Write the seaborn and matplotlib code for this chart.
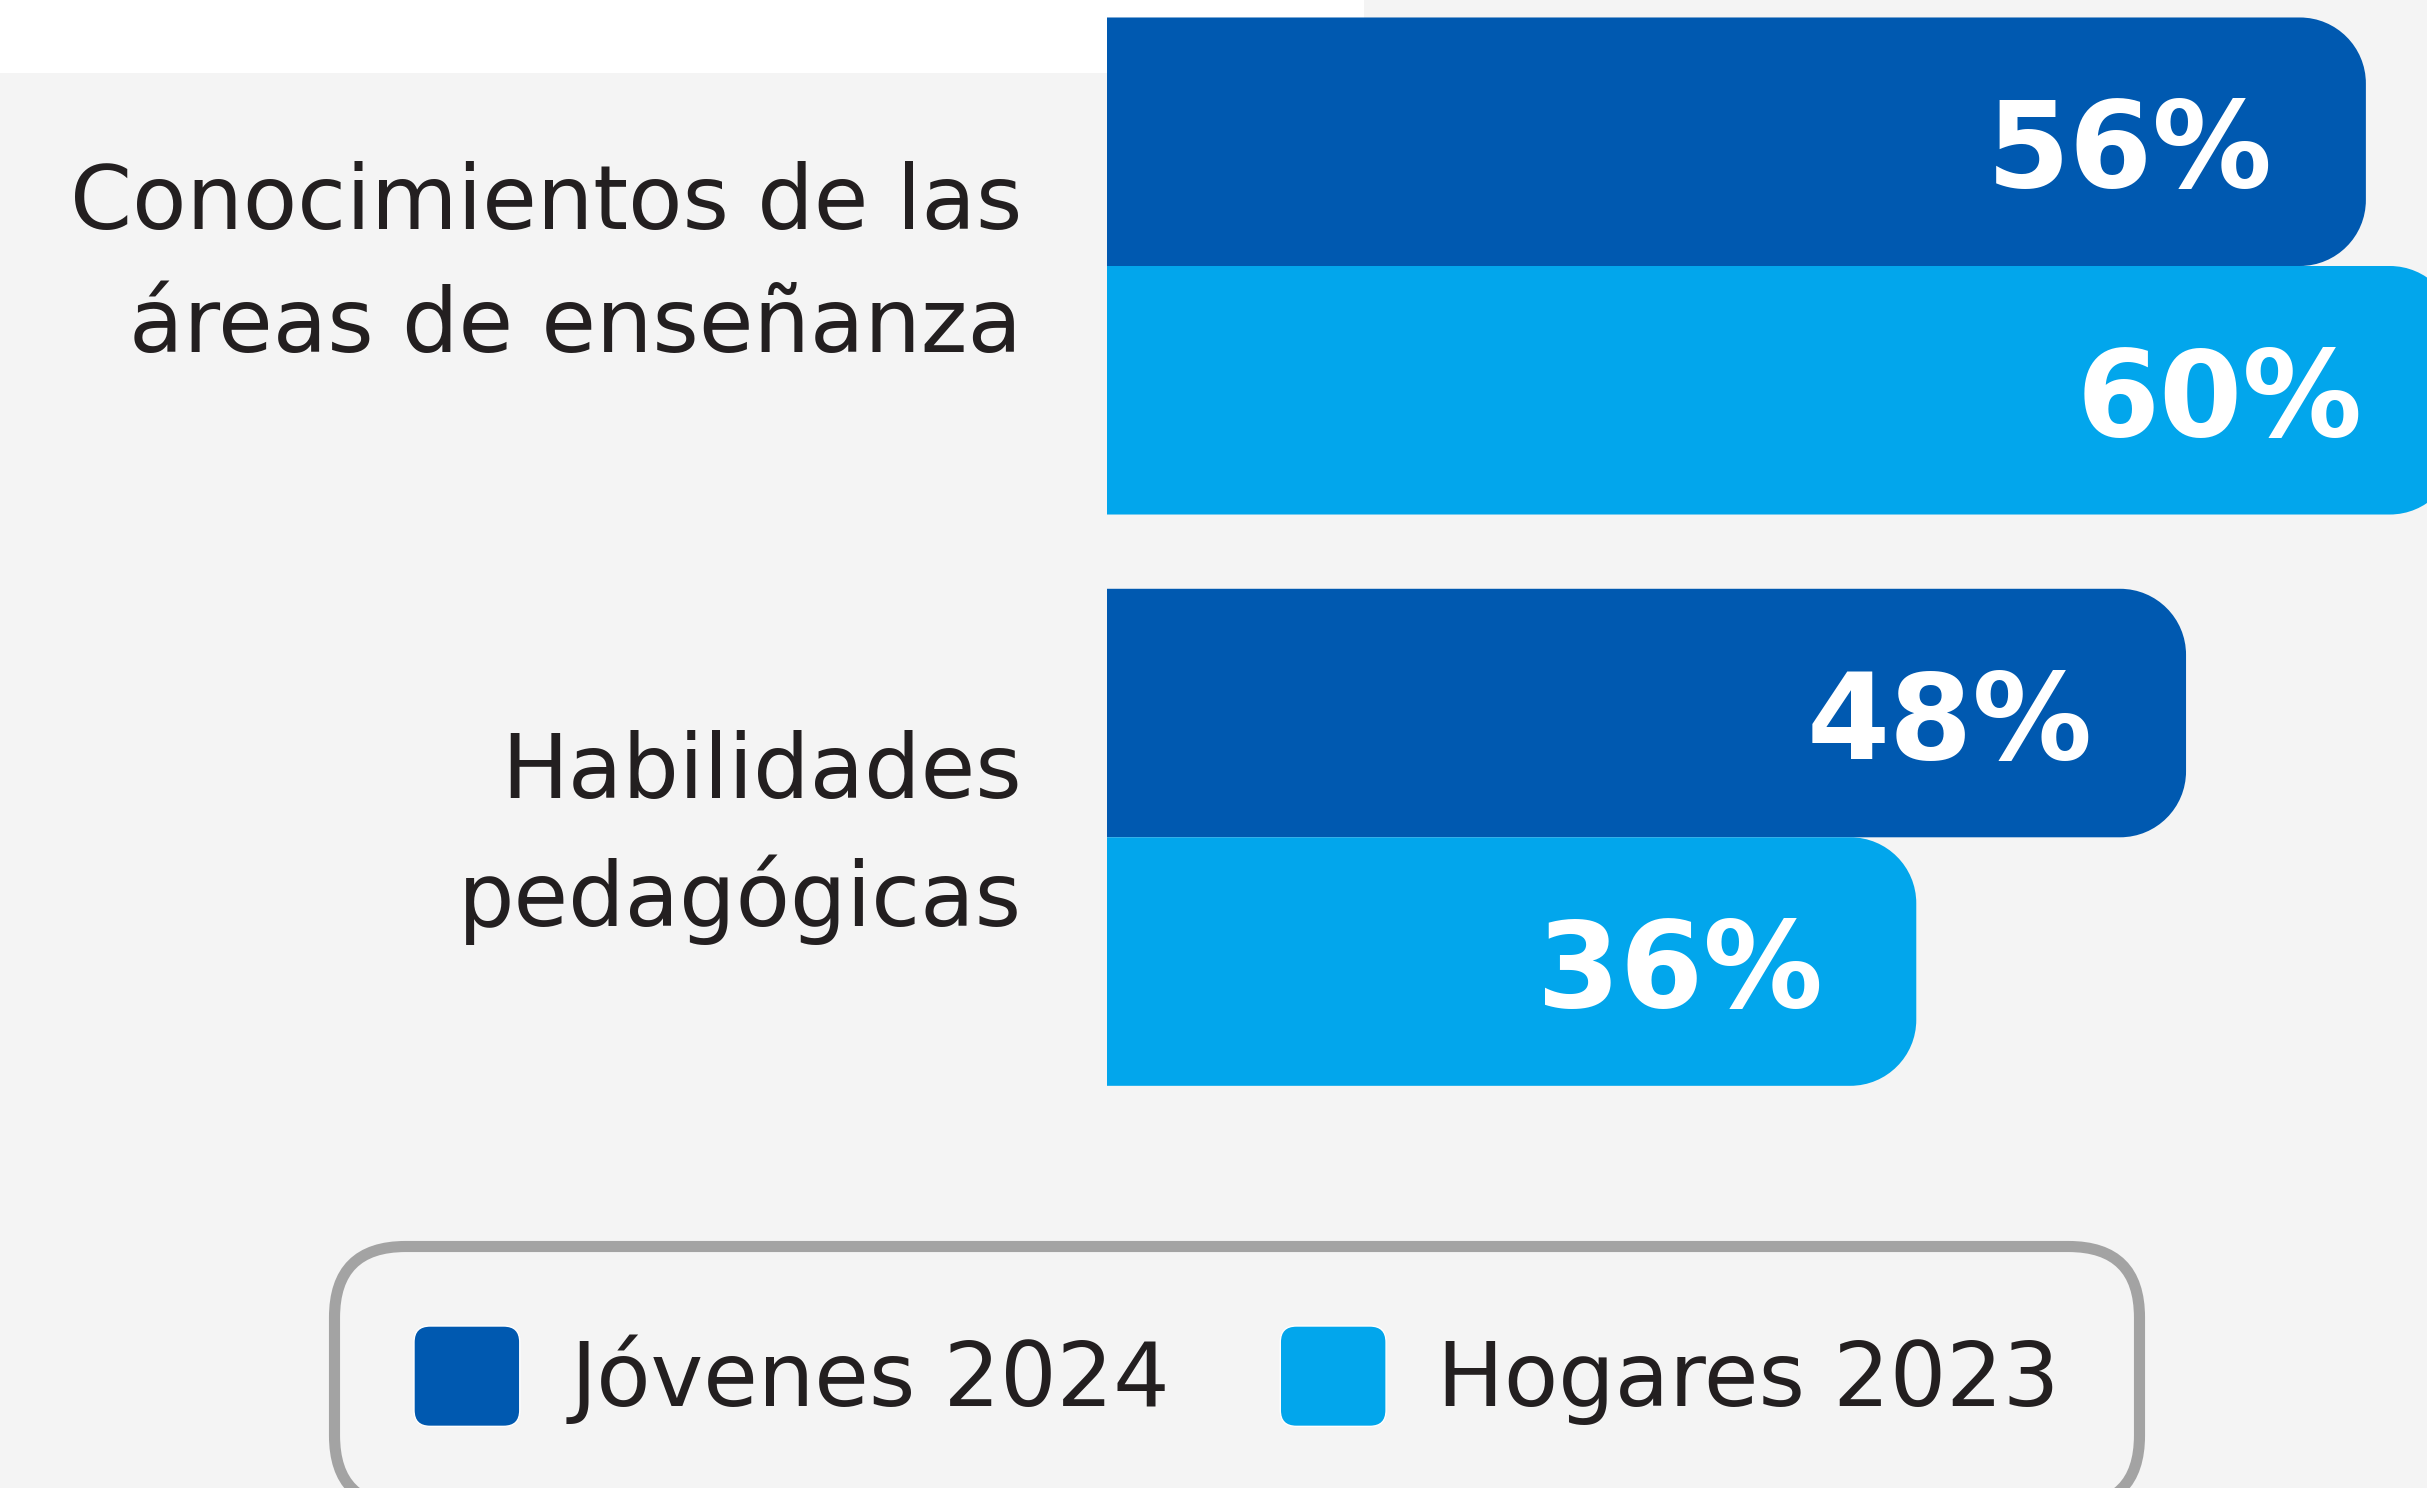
import pandas as pd
import matplotlib.pyplot as plt
import seaborn as sns
from matplotlib.patches import Rectangle, PathPatch, FancyBboxPatch
from matplotlib.path import Path
from matplotlib.legend_handler import HandlerPatch

# data
categories = ["Conocimientos de las\náreas de enseñanza", "Habilidades\npedagógicas"]
series = ["Jóvenes 2024", "Hogares 2023"]
jovenes_2024 = [56, 48]
hogares_2023 = [60, 36]
colors = ["#0059b0", "#02a6ec"]

sns.set_style("white")
plt.rcParams['font.family'] = ['DejaVu Sans']
text_color = "#231f20"
bg = "#f4f4f4"

df = pd.DataFrame({
    'categoria': categories * 2,
    'serie': [series[0]] * 2 + [series[1]] * 2,
    'valor': jovenes_2024 + hogares_2023,
})

W, H, DPI = 2427, 1488, 100
fig = plt.figure(figsize=(W / DPI, H / DPI), dpi=DPI, facecolor=bg)

# white strip at the top left
fig.patches.append(Rectangle((0, 1 - 73 / H), 1364 / W, 73 / H, transform=fig.transFigure,
                             facecolor="white", edgecolor="none", zorder=-1))

ax_left = 1107 / W
ax = fig.add_axes([ax_left, 0, 1 - ax_left, 1])
ax.set_facecolor("none")

sns.barplot(data=df, y='categoria', x='valor', hue='serie', hue_order=series,
            palette=colors, orient='h', width=0.87, saturation=1, ax=ax)

# axis limits so one unit = 22.48 px horizontally, 571.3 px between groups
px_x = 22.48
px_y = 571.3
ax.set_xlim(0, (W - 1107) / px_x)
ax.set_ylim((H - 266) / px_y, -266 / px_y)

for s in ax.spines.values():
    s.set_visible(False)
ax.set_xticks([])
ax.set_xlabel("")
ax.set_ylabel("")
ax.tick_params(axis='y', length=0, pad=61, labelsize=64, labelcolor=text_color)
for lbl in ax.get_yticklabels():
    lbl.set_linespacing(1.52)
    lbl.set_verticalalignment('center')

# rounded right ends for the bars + value labels
radius = 66
rx = radius / px_x
ry = radius / px_y
k = 0.5523
for cont in ax.containers:
    for bar in cont:
        x0, y0 = bar.get_x(), bar.get_y()
        w, h = bar.get_width(), bar.get_height()
        x1, y1 = x0 + w, y0 + h
        verts = [
            (x0, y0), (x1 - rx, y0),
            (x1 - rx + k * rx, y0), (x1, y0 + ry - k * ry), (x1, y0 + ry),
            (x1, y1 - ry),
            (x1, y1 - ry + k * ry), (x1 - rx + k * rx, y1), (x1 - rx, y1),
            (x0, y1), (x0, y0),
        ]
        codes = [Path.MOVETO, Path.LINETO,
                 Path.CURVE4, Path.CURVE4, Path.CURVE4,
                 Path.LINETO,
                 Path.CURVE4, Path.CURVE4, Path.CURVE4,
                 Path.LINETO, Path.CLOSEPOLY]
        ax.add_patch(PathPatch(Path(verts, codes), facecolor=bar.get_facecolor(),
                               edgecolor="none", zorder=bar.get_zorder()))
        bar.set_visible(False)
        ax.annotate(f"{w:.0f}%", xy=(x1, y0 + h / 2), xytext=(-67, 0),
                    textcoords='offset points', ha='right', va='center_baseline',
                    fontsize=86, fontweight='bold', color='white', zorder=5,
                    annotation_clip=False)

# legend below, rounded box and rounded swatches
old = ax.get_legend()
handles = old.legend_handles
labels = [t.get_text() for t in old.get_texts()]
old.remove()


def rounded_swatch(legend, orig_handle, xdescent, ydescent, width, height, fontsize):
    r = 0.16 * height
    return FancyBboxPatch((-xdescent, -ydescent), width, height,
                          boxstyle=f"round,pad=0,rounding_size={r}")


leg = fig.legend(handles, labels, loc='upper left',
                 bbox_to_anchor=(334 / W, 1 - 1246 / H), borderaxespad=0,
                 ncol=2, fontsize=64, frameon=True, borderpad=0.9,
                 handlelength=1.19, handleheight=1.36, handletextpad=0.57,
                 columnspacing=1.24,
                 handler_map={type(handles[0]): HandlerPatch(patch_func=rounded_swatch)})
for t in leg.get_texts():
    t.set_color(text_color)
frame = leg.get_frame()
frame.set_facecolor(bg)
frame.set_alpha(1)
frame.set_edgecolor("#a3a3a3")
frame.set_linewidth(8)
frame.set_boxstyle("round,pad=0,rounding_size=0.8")

fig.savefig("out.png", dpi=DPI, facecolor=bg)
